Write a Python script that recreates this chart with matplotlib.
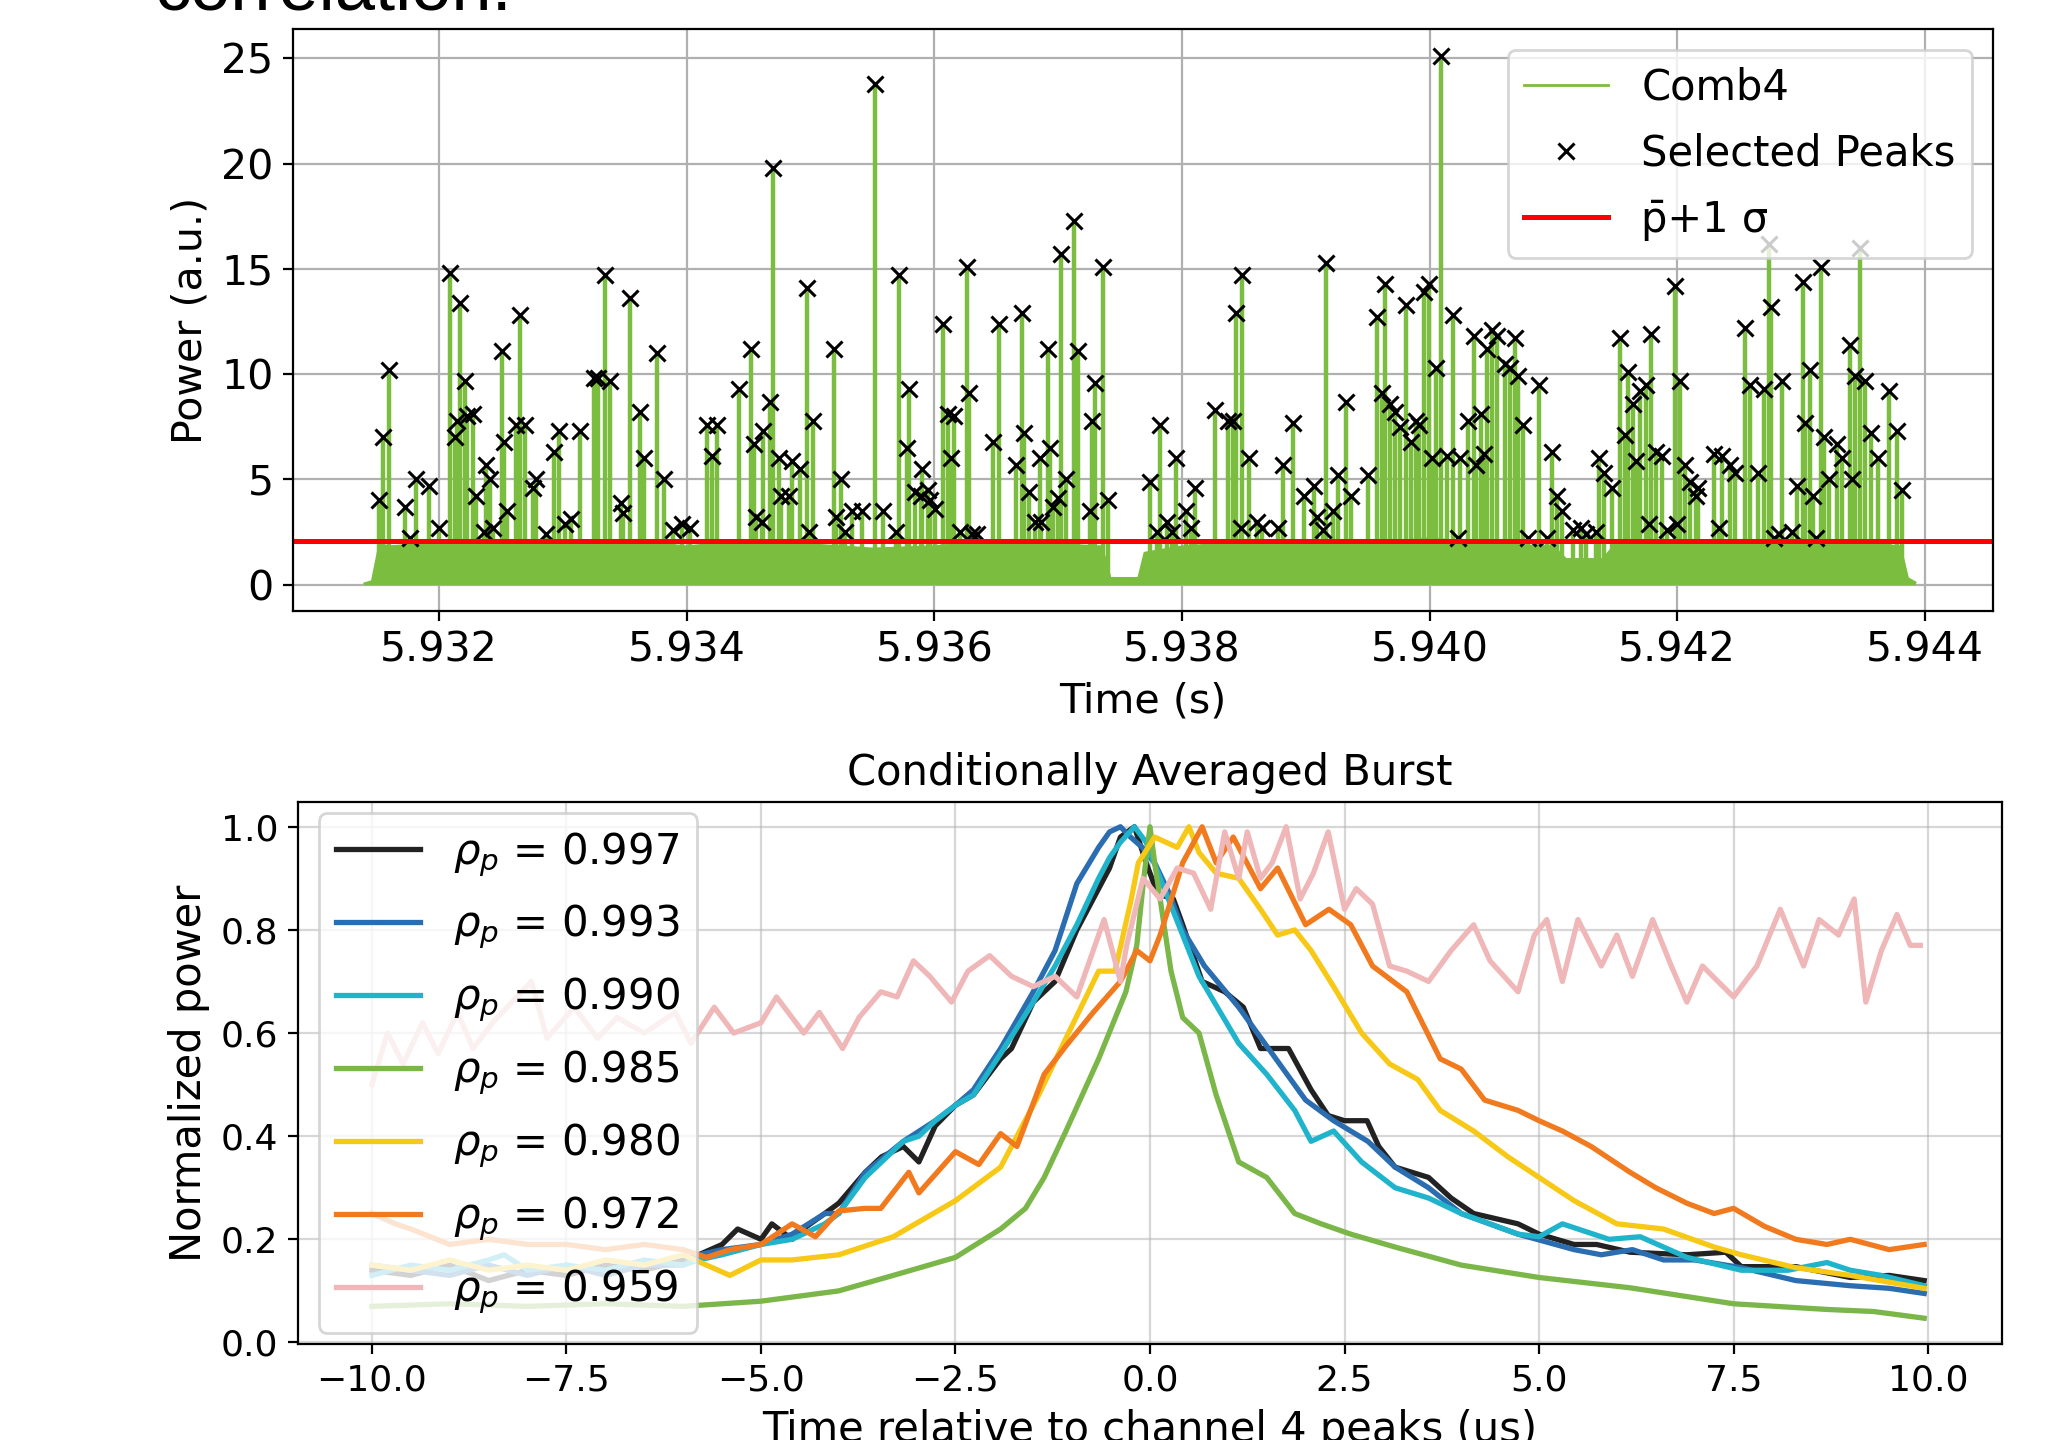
import numpy as np
import matplotlib.pyplot as plt
from matplotlib.ticker import FormatStrFormatter

# ==========================[Top panel data]=============================
# level of the dense green mass of the Comb4 trace
env_t = [5.93140, 5.93146, 5.93152, 5.93160, 5.93180, 5.93200, 5.93250, 5.93300,
         5.93350, 5.93400, 5.93450, 5.93500, 5.93550, 5.93600, 5.93650, 5.93700,
         5.93735, 5.93742, 5.93765, 5.93770, 5.93800, 5.93850, 5.93900, 5.93950,
         5.94000, 5.94050, 5.94100, 5.94110, 5.94140, 5.94150, 5.94200, 5.94250,
         5.94300, 5.94350, 5.94380, 5.94386, 5.94392]
env_p = [0.05, 0.15, 1.9, 1.8, 1.9, 2.0, 2.1, 1.9,
         2.1, 1.8, 2.1, 1.9, 1.7, 1.8, 2.1, 1.9,
         1.8, 0.3, 0.3, 1.5, 1.8, 2.0, 2.1, 1.9,
         2.2, 1.9, 1.8, 1.2, 1.2, 1.9, 2.1, 2.0,
         2.1, 2.0, 1.8, 0.3, 0.1]

# selected peaks (time in s, power in a.u.)
peak_t = [5.931515, 5.931546, 5.931599, 5.931726, 5.931768, 5.931810, 5.931916, 5.932000, 5.932084, 5.932169,
          5.932127, 5.932148, 5.932211, 5.932222, 5.932274, 5.932295, 5.932359, 5.932380, 5.932411, 5.932433,
          5.932506, 5.932527, 5.932549, 5.932654, 5.932622, 5.932696, 5.932760, 5.932781, 5.932865, 5.932928,
          5.932971, 5.933013, 5.933065, 5.933139, 5.933255, 5.933287, 5.933340, 5.933382, 5.933466, 5.933487,
          5.933540, 5.933625, 5.933656, 5.933762, 5.933814, 5.933888, 5.933962, 5.934025, 5.934163, 5.934205,
          5.934247, 5.934426, 5.934521, 5.934542, 5.934563, 5.934606, 5.934616, 5.934669, 5.934700, 5.934743,
          5.934764, 5.934827, 5.934848, 5.934912, 5.934975, 5.935017, 5.934985, 5.935186, 5.935207, 5.935249,
          5.935281, 5.935333, 5.935418, 5.935523, 5.935587, 5.935692, 5.935713, 5.935777, 5.935798, 5.935840,
          5.935893, 5.935903, 5.935945, 5.935966, 5.936009, 5.936072, 5.936114, 5.936135, 5.936156, 5.936209,
          5.936262, 5.936283, 5.936304, 5.936346, 5.936473, 5.936526, 5.936663, 5.936705, 5.936726, 5.936768,
          5.936810, 5.936853, 5.936863, 5.936916, 5.936937, 5.936958, 5.937000, 5.937021, 5.937064, 5.937127,
          5.937158, 5.937253, 5.937275, 5.937296, 5.937359, 5.937401, 5.937739, 5.937802, 5.937823, 5.937876,
          5.937918, 5.937950, 5.938034, 5.938076, 5.938108, 5.938266, 5.938372, 5.938414, 5.938435, 5.938477,
          5.938488, 5.938540, 5.938604, 5.938646, 5.938772, 5.938815, 5.938899, 5.938983, 5.939068, 5.939089,
          5.939163, 5.939142, 5.939216, 5.939258, 5.939321, 5.939363, 5.939500, 5.939574, 5.939616, 5.939637,
          5.939680, 5.939722, 5.939764, 5.939806, 5.939848, 5.939891, 5.939912, 5.939954, 5.939996, 5.940017,
          5.940049, 5.940091, 5.940144, 5.940186, 5.940228, 5.940249, 5.940313, 5.940355, 5.940376, 5.940418,
          5.940439, 5.940460, 5.940503, 5.940545, 5.940608, 5.940650, 5.940692, 5.940713, 5.940756, 5.940798,
          5.940882, 5.940946, 5.940988, 5.941030, 5.941072, 5.941157, 5.941220, 5.941262, 5.941346, 5.941368,
          5.941410, 5.941473, 5.941536, 5.941578, 5.941600, 5.941642, 5.941663, 5.941695, 5.941747, 5.941768,
          5.941789, 5.941832, 5.941874, 5.941916, 5.941979, 5.942000, 5.942022, 5.942064, 5.942106, 5.942148,
          5.942169, 5.942296, 5.942338, 5.942359, 5.942422, 5.942465, 5.942549, 5.942591, 5.942654, 5.942697,
          5.942739, 5.942760, 5.942781, 5.942823, 5.942844, 5.942929, 5.942971, 5.943013, 5.943034, 5.943076,
          5.943098, 5.943119, 5.943161, 5.943182, 5.943224, 5.943287, 5.943329, 5.943393, 5.943414, 5.943435,
          5.943477, 5.943519, 5.943562, 5.943625, 5.943709, 5.943773, 5.943815]
peak_p = [4.0, 7.0, 10.2, 3.7, 2.2, 5.0, 4.7, 2.7, 14.8, 13.4,
          7.0, 7.8, 9.7, 8.0, 8.1, 4.2, 2.5, 5.7, 5.0, 2.7,
          11.1, 6.8, 3.5, 12.8, 7.6, 7.6, 4.6, 5.0, 2.4, 6.3,
          7.3, 2.9, 3.1, 7.3, 9.8, 9.8, 14.7, 9.7, 3.9, 3.4,
          13.6, 8.2, 6.0, 11.0, 5.0, 2.6, 2.9, 2.7, 7.6, 6.1,
          7.6, 9.3, 11.2, 6.7, 3.2, 3.0, 7.3, 8.7, 19.8, 6.0,
          4.2, 4.2, 5.9, 5.5, 14.1, 7.8, 2.5, 11.2, 3.2, 5.0,
          2.5, 3.5, 3.5, 23.8, 3.5, 2.5, 14.7, 6.5, 9.3, 4.4,
          4.2, 5.5, 4.5, 4.0, 3.6, 12.4, 8.1, 6.0, 8.0, 2.5,
          15.1, 9.1, 2.4, 2.4, 6.8, 12.4, 5.7, 12.9, 7.2, 4.4,
          3.0, 6.0, 3.0, 11.2, 6.5, 3.7, 4.1, 15.7, 5.0, 17.3,
          11.1, 3.5, 7.8, 9.6, 15.1, 4.0, 4.9, 2.5, 7.6, 3.0,
          2.5, 6.0, 3.5, 2.7, 4.6, 8.3, 7.8, 7.8, 12.9, 2.7,
          14.7, 6.0, 3.0, 2.7, 2.7, 5.7, 7.7, 4.2, 4.7, 3.2,
          15.3, 2.6, 3.5, 5.2, 8.7, 4.2, 5.2, 12.7, 9.1, 14.3,
          8.6, 8.2, 7.5, 13.3, 6.8, 7.8, 7.6, 13.9, 14.3, 6.0,
          10.3, 25.1, 6.1, 12.8, 2.2, 6.0, 7.8, 11.8, 5.7, 8.1,
          6.2, 11.2, 12.1, 11.8, 10.5, 10.3, 11.7, 9.9, 7.6, 2.2,
          9.5, 2.2, 6.3, 4.2, 3.5, 2.6, 2.7, 2.4, 2.5, 6.0,
          5.3, 4.6, 11.7, 7.1, 10.1, 8.6, 5.9, 9.2, 9.5, 2.9,
          11.9, 6.3, 6.1, 2.6, 14.2, 2.9, 9.7, 5.7, 4.9, 4.2,
          4.6, 6.2, 2.7, 6.1, 5.7, 5.3, 12.2, 9.5, 5.3, 9.3,
          16.2, 13.2, 2.2, 2.4, 9.7, 2.5, 4.7, 14.4, 7.7, 10.2,
          4.2, 2.2, 15.1, 7.0, 5.0, 6.7, 6.0, 11.4, 5.0, 9.9,
          16.0, 9.7, 7.2, 6.0, 9.2, 7.3, 4.5]

threshold = 2.07
top_xticks = [5.932, 5.934, 5.936, 5.938, 5.940, 5.942, 5.944]

# ==========================[Bottom panel data]==========================
# [time (us), normalized power]
rho_997 = np.array([
    [-10.0, 0.14], [-9.5, 0.13], [-9.0, 0.15], [-8.5, 0.12], [-8.0, 0.14], [-7.5, 0.13],
    [-7.0, 0.15], [-6.5, 0.14], [-6.0, 0.16], [-5.8, 0.17], [-5.5, 0.19], [-5.3, 0.22],
    [-5.0, 0.20], [-4.86, 0.23], [-4.6, 0.20], [-4.46, 0.22], [-4.18, 0.25], [-4.0, 0.27],
    [-3.66, 0.33], [-3.45, 0.36], [-3.17, 0.38], [-2.97, 0.35], [-2.76, 0.42], [-2.5, 0.46],
    [-2.27, 0.48], [-1.92, 0.55], [-1.78, 0.57], [-1.5, 0.66], [-1.22, 0.70], [-0.94, 0.80],
    [-0.66, 0.88], [-0.52, 0.92], [-0.38, 0.98], [-0.2, 1.0], [-0.05, 0.93], [0.1, 0.87],
    [0.3, 0.86], [0.42, 0.81], [0.67, 0.70], [0.96, 0.68], [1.2, 0.65], [1.42, 0.57],
    [1.78, 0.57], [2.07, 0.49], [2.29, 0.44], [2.5, 0.43], [2.79, 0.43], [2.94, 0.38],
    [3.15, 0.34], [3.58, 0.32], [3.87, 0.28], [4.16, 0.25], [4.73, 0.23], [5.0, 0.21],
    [5.45, 0.19], [5.74, 0.19], [6.17, 0.175], [6.9, 0.17], [7.4, 0.175], [7.6, 0.147],
    [8.3, 0.147], [9.0, 0.126], [9.5, 0.13], [9.95, 0.12]])

rho_993 = np.array([
    [-10.0, 0.15], [-9.5, 0.14], [-9.0, 0.13], [-8.5, 0.15], [-8.0, 0.13], [-7.5, 0.15],
    [-7.0, 0.13], [-6.5, 0.15], [-6.0, 0.15], [-5.8, 0.17], [-5.5, 0.18], [-5.0, 0.19],
    [-4.6, 0.21], [-4.18, 0.25], [-4.0, 0.25], [-3.66, 0.33], [-3.17, 0.39], [-2.76, 0.43],
    [-2.5, 0.46], [-2.27, 0.49], [-1.92, 0.57], [-1.5, 0.68], [-1.22, 0.76], [-0.94, 0.89],
    [-0.66, 0.96], [-0.52, 0.99], [-0.38, 1.0], [-0.25, 0.98], [-0.1, 0.96], [0.06, 0.93],
    [0.25, 0.87], [0.42, 0.80], [0.7, 0.73], [1.14, 0.65], [1.57, 0.56], [2.0, 0.47],
    [2.36, 0.43], [2.8, 0.39], [3.15, 0.34], [3.58, 0.30], [4.0, 0.25], [4.73, 0.21],
    [5.45, 0.18], [5.8, 0.17], [6.2, 0.18], [6.6, 0.16], [7.0, 0.16], [7.6, 0.145],
    [8.3, 0.12], [9.0, 0.11], [9.5, 0.105], [9.95, 0.095]])

rho_990 = np.array([
    [-10.0, 0.13], [-9.5, 0.15], [-9.0, 0.14], [-8.5, 0.16], [-8.3, 0.17], [-8.0, 0.14],
    [-7.5, 0.15], [-7.0, 0.14], [-6.5, 0.16], [-6.0, 0.15], [-5.8, 0.16], [-5.5, 0.17],
    [-5.0, 0.19], [-4.6, 0.20], [-4.18, 0.23], [-4.0, 0.25], [-3.66, 0.32], [-3.17, 0.39],
    [-2.97, 0.40], [-2.76, 0.43], [-2.5, 0.46], [-2.27, 0.48], [-1.92, 0.56], [-1.5, 0.66],
    [-1.22, 0.73], [-0.94, 0.81], [-0.66, 0.90], [-0.52, 0.94], [-0.38, 0.97], [-0.2, 1.0],
    [-0.05, 0.97], [0.13, 0.90], [0.42, 0.79], [0.63, 0.71], [1.14, 0.58], [1.5, 0.52],
    [1.86, 0.45], [2.07, 0.39], [2.36, 0.41], [2.72, 0.35], [3.15, 0.30], [3.58, 0.28],
    [4.0, 0.25], [4.73, 0.21], [5.0, 0.205], [5.3, 0.23], [5.9, 0.20], [6.3, 0.205],
    [6.9, 0.165], [7.6, 0.14], [8.2, 0.14], [8.7, 0.155], [9.0, 0.14], [9.4, 0.13],
    [9.95, 0.11]])

rho_985 = np.array([
    [-10.0, 0.07], [-9.0, 0.075], [-8.0, 0.07], [-7.0, 0.075], [-6.0, 0.07], [-5.5, 0.075],
    [-5.0, 0.08], [-4.5, 0.09], [-4.0, 0.10], [-3.3, 0.13], [-2.5, 0.165], [-1.92, 0.22],
    [-1.6, 0.26], [-1.36, 0.32], [-1.08, 0.41], [-0.66, 0.55], [-0.31, 0.68], [-0.17, 0.77],
    [-0.08, 0.90], [0.0, 1.0], [0.06, 0.93], [0.13, 0.86], [0.27, 0.72], [0.42, 0.63],
    [0.63, 0.60], [0.85, 0.48], [1.14, 0.35], [1.5, 0.32], [1.86, 0.25], [2.2, 0.23],
    [2.58, 0.21], [3.15, 0.185], [4.0, 0.15], [5.0, 0.126], [6.17, 0.106], [7.5, 0.075],
    [8.7, 0.064], [9.3, 0.06], [9.95, 0.047]])

rho_980 = np.array([
    [-10.0, 0.15], [-9.5, 0.14], [-9.0, 0.16], [-8.5, 0.14], [-8.0, 0.15], [-7.5, 0.14],
    [-7.0, 0.16], [-6.5, 0.15], [-6.0, 0.17], [-5.7, 0.15], [-5.4, 0.13], [-5.0, 0.16],
    [-4.6, 0.16], [-4.0, 0.17], [-3.3, 0.205], [-2.5, 0.275], [-1.92, 0.34], [-1.43, 0.48],
    [-1.08, 0.59], [-0.66, 0.72], [-0.45, 0.72], [-0.24, 0.86], [-0.15, 0.93], [0.06, 0.98],
    [0.35, 0.96], [0.5, 1.0], [0.63, 0.95], [0.85, 0.91], [1.14, 0.90], [1.42, 0.84],
    [1.64, 0.79], [1.86, 0.80], [2.07, 0.76], [2.36, 0.69], [2.72, 0.60], [3.08, 0.54],
    [3.44, 0.51], [3.73, 0.45], [4.16, 0.41], [4.6, 0.36], [5.0, 0.32], [5.45, 0.275],
    [6.0, 0.23], [6.6, 0.22], [7.25, 0.185], [7.6, 0.17], [8.3, 0.145], [9.0, 0.13],
    [9.95, 0.105]])

rho_972 = np.array([
    [-10.0, 0.25], [-9.7, 0.23], [-9.5, 0.22], [-9.0, 0.19], [-8.5, 0.20], [-8.0, 0.19],
    [-7.5, 0.19], [-7.0, 0.18], [-6.5, 0.19], [-6.0, 0.18], [-5.7, 0.165], [-5.4, 0.18],
    [-5.0, 0.19], [-4.6, 0.23], [-4.3, 0.205], [-4.0, 0.255], [-3.67, 0.26], [-3.46, 0.26],
    [-3.1, 0.33], [-2.97, 0.29], [-2.5, 0.37], [-2.2, 0.345], [-1.92, 0.405], [-1.71, 0.38],
    [-1.36, 0.52], [-1.08, 0.575], [-0.73, 0.64], [-0.38, 0.70], [-0.17, 0.76], [0.0, 0.74],
    [0.13, 0.79], [0.42, 0.93], [0.67, 1.0], [0.85, 0.93], [1.07, 0.98], [1.42, 0.88],
    [1.64, 0.92], [2.0, 0.81], [2.3, 0.84], [2.58, 0.81], [2.86, 0.73], [3.3, 0.68],
    [3.73, 0.55], [4.0, 0.53], [4.3, 0.47], [4.73, 0.45], [5.0, 0.43], [5.3, 0.41],
    [5.67, 0.38], [6.17, 0.33], [6.5, 0.30], [6.9, 0.27], [7.25, 0.25], [7.5, 0.26],
    [7.9, 0.225], [8.3, 0.20], [8.7, 0.19], [9.0, 0.20], [9.5, 0.18], [9.95, 0.19]])

rho_959 = np.array([
    [-10.0, 0.50], [-9.8, 0.60], [-9.6, 0.54], [-9.35, 0.62], [-9.15, 0.56], [-8.9, 0.64],
    [-8.7, 0.57], [-8.45, 0.62], [-8.2, 0.66], [-7.95, 0.70], [-7.75, 0.59], [-7.4, 0.65],
    [-7.1, 0.59], [-6.85, 0.63], [-6.5, 0.60], [-6.1, 0.64], [-5.9, 0.58], [-5.6, 0.65],
    [-5.35, 0.60], [-5.0, 0.62], [-4.8, 0.67], [-4.45, 0.60], [-4.25, 0.64], [-3.95, 0.57],
    [-3.74, 0.63], [-3.46, 0.68], [-3.25, 0.67], [-3.04, 0.74], [-2.83, 0.71], [-2.55, 0.66],
    [-2.34, 0.72], [-2.06, 0.75], [-1.78, 0.71], [-1.5, 0.69], [-1.22, 0.71], [-0.94, 0.67],
    [-0.73, 0.76], [-0.59, 0.82], [-0.38, 0.70], [-0.3, 0.77], [-0.09, 0.90], [0.13, 0.86],
    [0.35, 0.92], [0.56, 0.91], [0.78, 0.84], [0.96, 0.99], [1.14, 0.90], [1.25, 0.99],
    [1.42, 0.90], [1.57, 0.93], [1.75, 1.0], [1.93, 0.86], [2.1, 0.91], [2.29, 0.99],
    [2.5, 0.84], [2.65, 0.88], [2.86, 0.85], [3.08, 0.73], [3.3, 0.72], [3.58, 0.70],
    [3.87, 0.76], [4.16, 0.81], [4.37, 0.74], [4.73, 0.68], [4.94, 0.79], [5.1, 0.82],
    [5.3, 0.70], [5.5, 0.82], [5.8, 0.73], [6.0, 0.79], [6.2, 0.71], [6.46, 0.82],
    [6.7, 0.73], [6.9, 0.66], [7.1, 0.73], [7.5, 0.67], [7.8, 0.73], [8.1, 0.84],
    [8.4, 0.73], [8.6, 0.82], [8.85, 0.79], [9.05, 0.86], [9.2, 0.66], [9.4, 0.76],
    [9.6, 0.83], [9.77, 0.77], [9.9, 0.77]])

series = [rho_997, rho_993, rho_990, rho_985, rho_980, rho_972, rho_959]
rho_labels = ['0.997', '0.993', '0.990', '0.985', '0.980', '0.972', '0.959']
colors = ['#222222', '#2a6db0', '#20b4cc', '#7ab648', '#f7c815', '#f27a1e', '#efb7b7']

green = '#7bbd3e'

# ==============================[Figure]=================================
fig = plt.figure(figsize=(10.24, 7.2), dpi=200)

# slide text cut by the top edge
fig.text(155 / 2048, 1 - 9 / 1440, 'correlation.', fontsize=26,
         family='Liberation Sans', va='baseline')

# ---- top: Comb4 trace with selected peaks ----
ax1 = fig.add_axes([293 / 2048, 1 - 611 / 1440, 1700 / 2048, 582 / 1440])
ax1.set_axisbelow(True)
ax1.fill_between(env_t, 0, env_p, color=green, lw=0)
ax1.vlines(peak_t, 0, peak_p, color=green, lw=1.6)
ax1.plot(env_t, env_p, color=green, lw=1.0, label='Comb4')
ax1.plot(peak_t, peak_p, 'x', color='k', ms=5.5, mew=1.1, label='Selected Peaks')
ax1.axhline(threshold, color='red', lw=1.8, label='p\u0304+1 \u03c3')

ax1.set_xlim(5.93082, 5.94455)
ax1.set_ylim(-1.25, 26.4)
ax1.set_xticks(top_xticks)
ax1.set_yticks([0, 5, 10, 15, 20, 25])
ax1.xaxis.set_major_formatter(FormatStrFormatter('%.3f'))
ax1.tick_params(labelsize=14.8)
ax1.set_xlabel('Time (s)', fontsize=14.8)
ax1.set_ylabel('Power (a.u.)', fontsize=14.8)
ax1.grid(True)
ax1.legend(loc='upper right', fontsize=15, labelspacing=0.58, handletextpad=0.8)

# ---- bottom: conditionally averaged bursts ----
ax2 = fig.add_axes([298 / 2048, 1 - 1344 / 1440, 1704 / 2048, 542 / 1440])
ax2.set_axisbelow(True)
for data, rho, c in zip(series, rho_labels, colors):
    ax2.plot(data[:, 0], data[:, 1], color=c, lw=1.9, label=r'$\rho_p$ = ' + rho)

ax2.set_xlim(-10.95, 10.95)
ax2.set_ylim(-0.003, 1.048)
ax2.set_xticks([-10, -7.5, -5, -2.5, 0, 2.5, 5, 7.5, 10])
ax2.set_yticks([0.0, 0.2, 0.4, 0.6, 0.8, 1.0])
ax2.tick_params(labelsize=13)
ax2.set_title('Conditionally Averaged Burst', fontsize=15)
ax2.set_xlabel('Time relative to channel 4 peaks (us)', fontsize=15)
ax2.set_ylabel('Normalized power', fontsize=15)
ax2.grid(True, alpha=0.5)
ax2.legend(loc='center left', fontsize=15.1, labelspacing=0.58)

fig.savefig('out.png', dpi=200)
